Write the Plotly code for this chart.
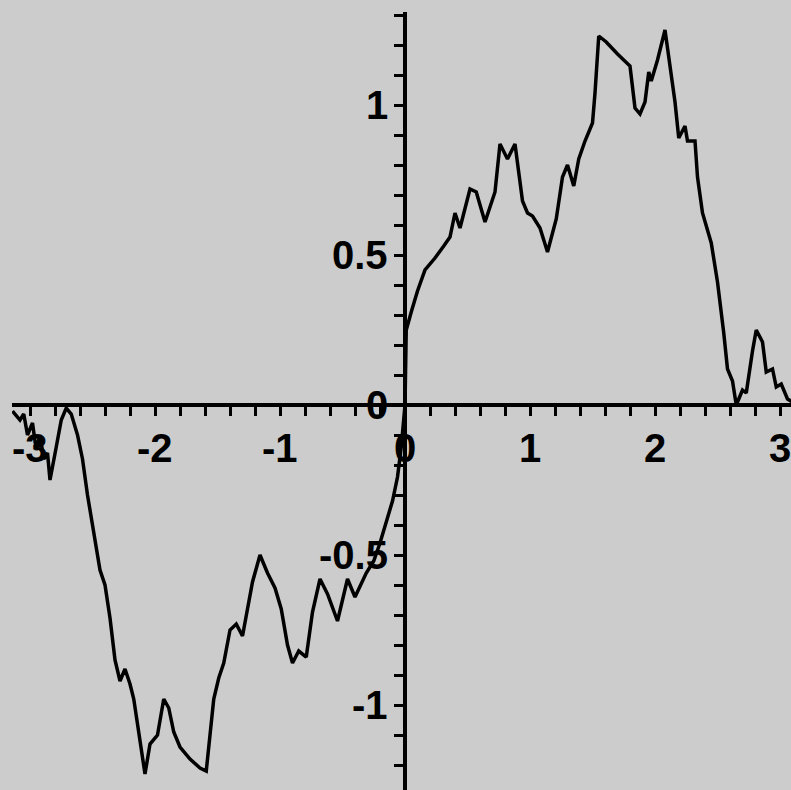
import plotly.graph_objects as go

# Curve samples
x_vals = [
    -3.14, -3.08, -3.05, -3.02, -2.98, -2.95, -2.92, -2.89, -2.86, -2.84,
    -2.79, -2.75, -2.71, -2.67, -2.62, -2.58, -2.54, -2.51, -2.48, -2.44,
    -2.40, -2.36, -2.32, -2.28, -2.24, -2.20, -2.17, -2.12, -2.08, -2.04,
    -1.98, -1.93, -1.89, -1.85, -1.80, -1.72, -1.64, -1.59, -1.56, -1.53,
    -1.49, -1.45, -1.40, -1.35, -1.30, -1.26, -1.22, -1.16, -1.10, -1.04,
    -0.99, -0.94, -0.90, -0.85, -0.79, -0.74, -0.68, -0.62, -0.54, -0.46,
    -0.40, -0.31, -0.25, -0.20, -0.14, -0.10, -0.06, -0.03, 0.00, 0.01,
    0.05, 0.10, 0.16, 0.24, 0.31, 0.36, 0.40, 0.44, 0.52, 0.57,
    0.64, 0.72, 0.76, 0.82, 0.88, 0.94, 0.98, 1.02, 1.08, 1.14,
    1.21, 1.26, 1.30, 1.35, 1.39, 1.44, 1.50, 1.52, 1.55, 1.61,
    1.70, 1.80, 1.84, 1.88, 1.92, 1.95, 1.97, 2.02, 2.08, 2.12,
    2.16, 2.19, 2.24, 2.26, 2.32, 2.34, 2.38, 2.45, 2.50, 2.55,
    2.58, 2.62, 2.65, 2.70, 2.73, 2.78, 2.81, 2.86, 2.89, 2.94,
    2.97, 3.01, 3.06, 3.14,
]
y_vals = [
    -0.02, -0.05, -0.03, -0.10, -0.06, -0.15, -0.10, -0.18, -0.16, -0.25,
    -0.14, -0.05, -0.01, -0.03, -0.10, -0.18, -0.30, -0.38, -0.45, -0.55,
    -0.60, -0.71, -0.85, -0.92, -0.88, -0.93, -0.98, -1.11, -1.23, -1.13,
    -1.10, -0.98, -1.01, -1.09, -1.14, -1.18, -1.21, -1.22, -1.10, -0.98,
    -0.91, -0.86, -0.75, -0.73, -0.77, -0.68, -0.59, -0.50, -0.56, -0.61,
    -0.68, -0.80, -0.86, -0.82, -0.84, -0.69, -0.58, -0.63, -0.72, -0.58,
    -0.64, -0.56, -0.52, -0.46, -0.38, -0.32, -0.24, -0.14, 0.00, 0.25,
    0.31, 0.38, 0.45, 0.49, 0.53, 0.56, 0.64, 0.59, 0.72, 0.71,
    0.61, 0.71, 0.87, 0.82, 0.87, 0.68, 0.64, 0.63, 0.59, 0.51,
    0.62, 0.76, 0.80, 0.73, 0.82, 0.88, 0.94, 1.04, 1.23, 1.21,
    1.17, 1.13, 0.99, 0.97, 1.01, 1.11, 1.08, 1.15, 1.25, 1.13,
    1.01, 0.89, 0.93, 0.88, 0.88, 0.76, 0.64, 0.54, 0.41, 0.24,
    0.12, 0.08, 0.00, 0.05, 0.04, 0.18, 0.25, 0.21, 0.11, 0.12,
    0.06, 0.07, 0.02, 0.00,
]

# Tick labels
x_labels = [-3, -2, -1, 0, 1, 2, 3]
y_labels = [-1, -0.5, 0, 0.5, 1]

W, H = 791, 790
bg = '#cccccc'
x_range = [-3.144, 3.088]
y_range = [-1.2833, 1.31]
x_dom = [12 / W, 1]
y_dom = [0, (H - 12) / H]

# Paper positions of the origin, so the axes cross at (0, 0)
x_axis_pos = y_dom[0] + (0 - y_range[0]) / (y_range[1] - y_range[0]) * (y_dom[1] - y_dom[0])
y_axis_pos = x_dom[0] + (0 - x_range[0]) / (x_range[1] - x_range[0]) * (x_dom[1] - x_dom[0])

fig = go.Figure()

fig.add_trace(
    go.Scatter(
        x=x_vals,
        y=y_vals,
        mode='lines',
        line=dict(color='black', width=3.5),
        showlegend=False,
        hoverinfo='skip'
    )
)

label_font = dict(family='Liberation Sans, Arial, sans-serif', size=40,
                  color='black', weight='bold')

for v in x_labels:
    fig.add_annotation(
        x=v, y=0, xref='x', yref='y',
        text=str(v), showarrow=False,
        xanchor='center', yanchor='middle',
        yshift=-43, font=label_font
    )

for v in y_labels:
    fig.add_annotation(
        x=0, y=v, xref='x', yref='y',
        text='%g' % v, showarrow=False,
        xanchor='right', yanchor='middle',
        xshift=-15, font=label_font
    )

fig.update_layout(
    width=W,
    height=H,
    margin=dict(l=0, r=0, t=0, b=0),
    paper_bgcolor=bg,
    plot_bgcolor=bg,
    xaxis=dict(
        range=x_range,
        domain=x_dom,
        anchor='free',
        position=x_axis_pos,
        showgrid=False,
        zeroline=False,
        showline=True,
        linecolor='black',
        linewidth=4,
        ticks='outside',
        tick0=0,
        dtick=0.2,
        ticklen=9,
        tickwidth=3,
        tickcolor='black',
        showticklabels=False
    ),
    yaxis=dict(
        range=y_range,
        domain=y_dom,
        anchor='free',
        position=y_axis_pos,
        showgrid=False,
        zeroline=False,
        showline=True,
        linecolor='black',
        linewidth=4,
        ticks='outside',
        tick0=0,
        dtick=0.1,
        ticklen=9,
        tickwidth=3,
        tickcolor='black',
        showticklabels=False
    )
)

# drop the default page margin so the figure sits at the window's corner
fig.write_html(
    "out.html",
    config={'displayModeBar': False},
    post_script="document.body.style.margin='0';"
)
